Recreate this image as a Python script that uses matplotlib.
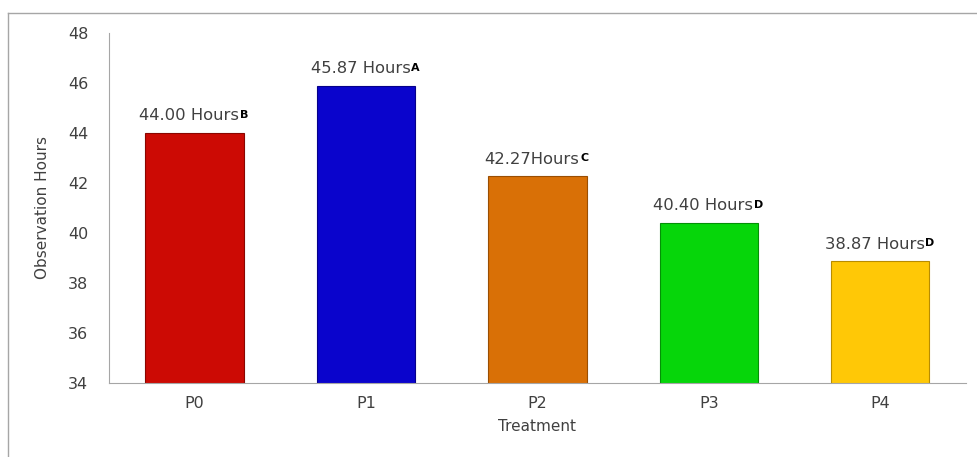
import matplotlib.pyplot as plt
from matplotlib.lines import Line2D

treatments = ['P0', 'P1', 'P2', 'P3', 'P4']
hours = [44.00, 45.87, 42.27, 40.40, 38.87]
labels = ['44.00 Hours', '45.87 Hours', '42.27Hours', '40.40 Hours', '38.87 Hours']
letters = ['B', 'A', 'C', 'D', 'D']
colors = ['#CC0A04', '#0A04CC', '#D97006', '#06D60A', '#FFC806']
edges = ['#8A0600', '#06008A', '#9A4E02', '#049006', '#B88C00']

plt.rcParams['font.family'] = 'DejaVu Sans'

fig = plt.figure(figsize=(9.77, 4.57), dpi=100)
ax = fig.add_axes([0.1116, 0.1619, 0.877, 0.766])

x = range(len(treatments))
ax.bar(x, hours, width=0.575, color=colors, edgecolor=edges, linewidth=0.8)

for i, v in enumerate(hours):
    t = ax.annotate(labels[i], (i, v), xytext=(-4, 7), textcoords='offset points',
                    ha='center', va='bottom', fontsize=11.8, color='#404040')
    ax.annotate(letters[i], xy=(1, 0.9), xycoords=t, xytext=(0.5, 0),
                textcoords='offset points', ha='left', va='top',
                fontsize=8, fontweight='bold', color='black')

ax.set_ylim(34, 48)
ax.set_xlim(-0.5, 4.5)
ax.set_yticks(range(34, 49, 2))
ax.set_xticks(list(x))
ax.set_xticklabels(treatments)
ax.tick_params(length=0, labelsize=11.5, labelcolor='#404040', pad=15)
ax.tick_params(axis='x', pad=9)
for s in ['top', 'right']:
    ax.spines[s].set_visible(False)
for s in ['left', 'bottom']:
    ax.spines[s].set_color('#A6A6A6')
ax.set_xlabel('Treatment', fontsize=11, color='#404040', labelpad=6)
ax.set_ylabel('Observation Hours', fontsize=11, color='#404040', labelpad=13,
              family='Liberation Sans Narrow')

# outer chart frame (top and left edges)
fig.add_artist(Line2D([8 / 977, 1], [1 - 13 / 457, 1 - 13 / 457], color='#A6A6A6', lw=1))
fig.add_artist(Line2D([8 / 977, 8 / 977], [0, 1 - 13 / 457], color='#A6A6A6', lw=1))

fig.savefig('out.png', dpi=100)
